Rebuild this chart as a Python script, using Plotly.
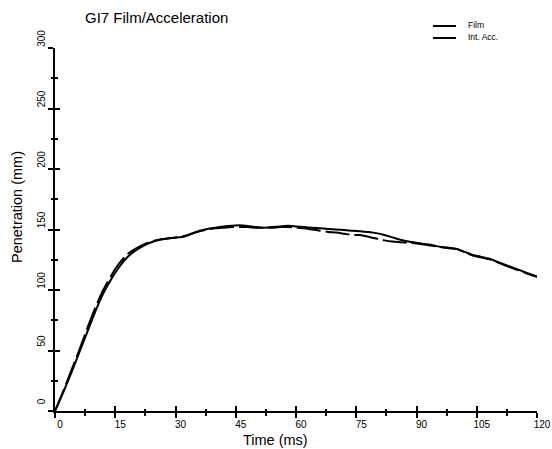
import plotly.graph_objects as go

# Time base (ms) shared by both penetration curves
time_ms = [0, 2, 4, 6, 8, 10, 12, 14, 16, 18, 20, 22, 24, 26, 28, 30, 32, 34, 36, 38,
           40, 42, 44, 46, 48, 50, 52, 54, 56, 58, 60, 62, 64, 66, 68, 70, 72, 74, 76, 78,
           80, 82, 84, 86, 88, 90, 92, 94, 96, 98, 100, 102, 104, 106, 108, 110, 112, 114,
           116, 118, 120]

# Penetration from film analysis (mm)
film = [0, 15, 31, 48, 65, 82, 97, 109, 119, 127, 132.5, 136.5, 139.5, 141.5, 142.5,
        143.2, 144, 146.5, 149, 150.5, 151.5, 152.5, 153.2, 153.5, 153, 152, 151.5, 152,
        152.5, 153, 152.5, 152, 151.5, 151, 150.5, 150, 149.5, 149, 148.5, 148, 147,
        145.5, 143.5, 141.5, 140, 139, 138, 137, 135.5, 134.5, 134, 131.5, 129, 127.5,
        126, 123.5, 121, 118.5, 116, 113.5, 111]

# Penetration from integrated acceleration (mm)
int_acc = [0, 16, 33, 50, 68, 85, 100, 112, 122, 129.5, 134, 137.5, 140, 141.5, 142.5,
           143.5, 144.5, 146.5, 148.5, 150, 151, 151.5, 152, 152, 152, 151.5, 151.5, 151.5,
           152, 152, 151.5, 151, 150, 149, 148, 147.5, 146.5, 145.5, 145.5, 144, 142.5,
           141, 140, 139.5, 139, 138.5, 137.5, 136.5, 135.5, 135, 134, 131, 128.5, 127,
           125.5, 123, 120.5, 118, 115.5, 113, 111]

x_ticks = [0, 15, 30, 45, 60, 75, 90, 105, 120]
y_ticks = [0, 50, 100, 150, 200, 250, 300]
series_names = ["Film", "Int. Acc."]

FONT = "Liberation Sans, Arial, sans-serif"
W, H = 552, 449
ML, MR, MT, MB = 55, 15, 48, 38
PW, PH = W - ML - MR, H - MT - MB


def px_x(p):
    """pixel column -> paper x"""
    return (p - ML) / PW


def px_y(p):
    """pixel row -> paper y"""
    return (H - MB - p) / PH


fig = go.Figure()
fig.add_trace(go.Scatter(x=time_ms, y=film, mode="lines", name=series_names[0],
                         showlegend=False,
                         line=dict(color="black", width=2, shape="spline", smoothing=0.6)))
fig.add_trace(go.Scatter(x=time_ms, y=int_acc, mode="lines", name=series_names[1],
                         showlegend=False,
                         line=dict(color="black", width=2, dash="24px,5px",
                                   shape="spline", smoothing=0.6)))
# empty trace so the overlay axes (inward tick halves) get drawn
fig.add_trace(go.Scatter(x=[], y=[], xaxis="x2", yaxis="y2", showlegend=False))

major = dict(ticklen=5, tickwidth=2, tickcolor="black")
minor_x = dict(dtick=7.5, tick0=0, ticklen=2.5, tickwidth=2, tickcolor="black")
minor_y = dict(dtick=25, tick0=0, ticklen=2.5, tickwidth=2, tickcolor="black")

# compact key in the top-right corner
key_rows = [26, 38]
key_shapes = [
    dict(type="line", xref="paper", yref="paper", x0=px_x(433), x1=px_x(456),
         y0=px_y(r), y1=px_y(r), line=dict(color="black", width=2))
    for r in key_rows
]
key_labels = [
    dict(text=name, xref="paper", yref="paper", x=px_x(466), y=px_y(r),
         xanchor="left", yanchor="middle", showarrow=False,
         font=dict(family=FONT, size=8.5))
    for name, r in zip(series_names, [25, 37])
]

fig.update_layout(
    width=W, height=H,
    margin=dict(l=ML, r=MR, t=MT, b=MB, autoexpand=False),
    paper_bgcolor="white", plot_bgcolor="white",
    font=dict(family=FONT, color="black", size=12),
    showlegend=False,
    title=dict(text="GI7 Film/Acceleration", font=dict(family=FONT, size=15),
               xref="container", x=85 / W, xanchor="left",
               yref="container", y=1 - 12 / H, yanchor="top"),
    xaxis=dict(range=[0, 120], tickvals=x_ticks, ticks="outside", **major,
               minor=dict(ticks="outside", **minor_x),
               showline=True, linecolor="black", linewidth=2, showgrid=False,
               zeroline=False, tickfont=dict(size=10), ticklabelshift=5,
               ticklabelstandoff=-2),
    yaxis=dict(range=[0, 300], tickvals=y_ticks, ticks="outside", **major,
               minor=dict(ticks="outside", **minor_y),
               showline=True, linecolor="black", linewidth=2, showgrid=False,
               zeroline=False, tickangle=-90, tickfont=dict(size=10),
               ticklabelshift=-8, ticklabelstandoff=-1),
    xaxis2=dict(range=[0, 120], overlaying="x", anchor="y2", tickvals=x_ticks,
                ticks="inside", **major, minor=dict(ticks="inside", **minor_x),
                showticklabels=False, showline=False, showgrid=False, zeroline=False),
    yaxis2=dict(range=[0, 300], overlaying="y", anchor="x2", tickvals=y_ticks,
                ticks="inside", **major, minor=dict(ticks="inside", **minor_y),
                showticklabels=False, showline=False, showgrid=False, zeroline=False),
    shapes=key_shapes,
    annotations=[
        dict(text="Time (ms)", xref="paper", yref="paper", x=px_x(275),
             y=px_y(449), xanchor="center", yanchor="bottom", showarrow=False,
             borderpad=0, font=dict(family=FONT, size=14.5)),
        dict(text="Penetration (mm)", xref="paper", yref="paper", x=px_x(27),
             y=px_y(207), xanchor="right", yanchor="middle", textangle=-90,
             showarrow=False, font=dict(family=FONT, size=14.5)),
    ] + key_labels,
)

fig.write_html("out.html")
